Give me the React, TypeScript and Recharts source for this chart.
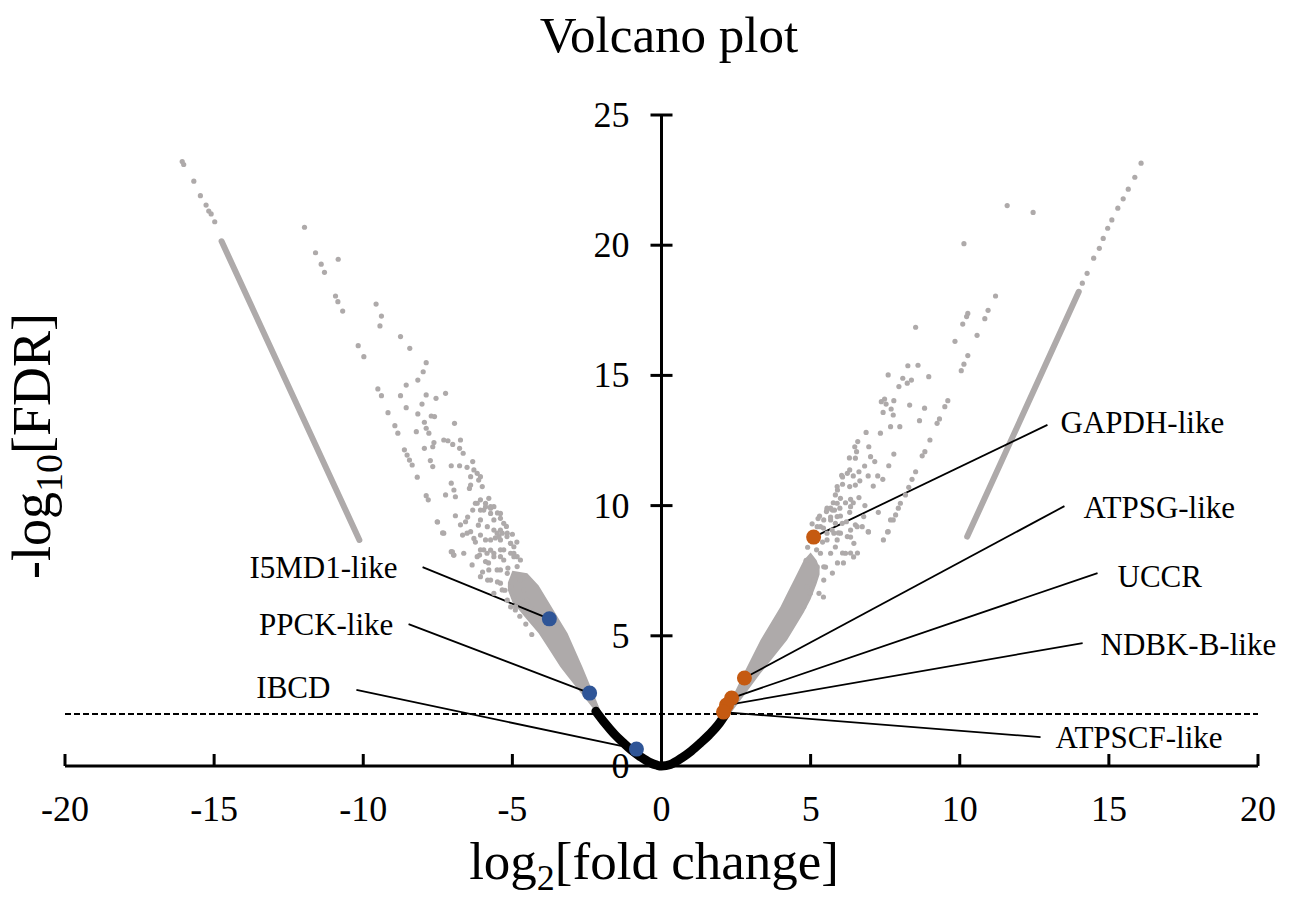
import React from 'react';
import { ComposedChart, Scatter, Line, Area, XAxis, YAxis, ReferenceLine } from 'recharts';

// ---------- data ----------
const xTicks = [-20, -15, -10, -5, 0, 5, 10, 15, 20];
const yTicks = [0, 5, 10, 15, 20, 25];
const fdrThreshold = 2;

// scattered genes, down-regulated side [log2FC, -log10FDR]
const leftScatter: [number, number][] = [
  [-11.97, 20.69], [-11.6, 19.71], [-11.41, 19.27], [-11.3, 18.96], [-10.84, 19.46], [-10.93, 18.05], [-10.85, 17.83], [-10.69, 17.47],
  [-9.57, 17.74], [-9.39, 17.28], [-9.44, 16.9], [-8.75, 16.49], [-8.44, 16.04], [-10.17, 16.14], [-9.98, 15.72], [-9.51, 14.48],
  [-9.39, 14.22], [-7.89, 15.49], [-7.99, 15.14], [-8.17, 14.82], [-8.56, 14.63], [-8.75, 14.22], [-8.56, 13.76], [-9.17, 13.57],
  [-8.94, 13.07], [-8.84, 12.78], [-8.03, 13.9], [-8.17, 13.52], [-7.89, 14.25], [-7.56, 14.12], [-7.24, 14.31], [-7.95, 13.2],
  [-7.72, 13.44], [-7.61, 13.42], [-7.89, 12.97], [-7.8, 12.78], [-8.22, 12.84], [-8.62, 12.14], [-8.53, 11.94], [-8.45, 11.75],
  [-8.36, 11.56], [-7.95, 12.2], [-7.63, 12.42], [-7.67, 12.26], [-7.3, 12.52], [-7.16, 12.49], [-7.0, 12.35], [-6.74, 12.52],
  [-6.77, 12.2], [-6.65, 12.01], [-6.94, 13.16], [-7.75, 11.73], [-7.67, 11.5], [-7.05, 11.53], [-6.77, 11.53], [-6.52, 11.47],
  [-6.33, 11.69], [-6.29, 11.37], [-6.18, 11.24], [-6.07, 11.11], [-6.4, 11.11], [-6.13, 10.98], [-8.19, 11.09], [-7.89, 10.38],
  [-7.82, 10.22], [-7.24, 10.41], [-7.05, 10.86], [-6.96, 10.6], [-6.91, 10.34], [-6.44, 10.66], [-6.4, 10.79], [-6.01, 10.73],
  [-6.07, 10.22], [-5.9, 10.09], [-5.79, 10.28], [-6.24, 10.09], [-6.33, 9.83], [-6.07, 9.83], [-5.73, 9.9], [-5.62, 9.96],
  [-5.73, 9.7], [-5.4, 9.51], [-7.52, 9.38], [-7.3, 8.94], [-6.91, 9.61], [-6.74, 9.26], [-6.57, 9.38], [-6.52, 8.94],
  [-6.4, 9.0], [-6.29, 8.74], [-6.07, 8.87], [-5.9, 8.68], [-5.62, 9.06], [-5.45, 8.81], [-5.34, 8.94], [-5.18, 8.81],
  [-5.06, 8.55], [-4.95, 8.42], [-5.06, 8.17], [-5.29, 8.3], [-7.05, 8.23], [-6.96, 8.1], [-6.63, 8.17], [-6.07, 8.3],
  [-5.85, 8.17], [-5.62, 8.17], [-5.4, 8.04], [-4.95, 8.17], [-4.84, 8.04], [-4.73, 7.91],
  [-7.51, 9.37], [-7.34, 8.95], [-7.01, 8.22], [-6.97, 8.1], [-6.67, 8.87], [-6.5, 9.56], [-6.14, 9.25], [-6.24, 8.6],
  [-6.1, 8.1], [-6.0, 7.45], [-5.8, 7.8], [-5.73, 8.29], [-5.83, 7.14], [-5.5, 7.07], [-5.4, 7.53], [-5.06, 6.11],
  [-4.9, 5.99], [-5.57, 8.76], [-5.4, 9.06], [-5.9, 9.95], [-5.5, 9.72],
  [-4.75, 5.75], [-4.55, 5.45], [-5.25, 6.75], [-4.35, 5.05], [-4.95, 7.3], [-5.15, 7.6], [-4.65, 7.2], [-5.0, 8.9],
  [-4.85, 8.6], [-5.2, 9.2],
  [-6.18, 10.09], [-5.96, 9.83], [-5.73, 9.96], [-6.07, 9.45], [-5.84, 9.19], [-5.62, 9.45], [-5.4, 9.7], [-5.29, 9.32],
  [-5.51, 8.94], [-5.17, 8.94], [-5.06, 8.55], [-5.4, 8.3], [-5.62, 8.04], [-5.29, 7.91], [-4.95, 8.04], [-4.84, 7.66],
  [-5.17, 7.4], [-5.51, 7.53], [-5.4, 7.02], [-5.06, 6.89], [-4.73, 7.14], [-4.62, 6.76], [-4.95, 6.5], [-4.5, 6.37],
  [-5.4, 8.68], [-5.96, 8.3], [-5.73, 8.68], [-6.18, 8.04], [-5.9, 7.85], [-6.35, 7.72], [-6.07, 7.27], [-5.73, 7.14],
  [-4.73, 6.37], [-4.39, 6.12], [-4.89, 6.12], [-5.17, 6.37], [-5.62, 6.63], [-5.34, 6.76], [-5.79, 7.53],
  [-16.07, 23.21], [-16.02, 23.1], [-15.68, 22.46], [-15.46, 21.9], [-15.27, 21.54], [-15.18, 21.31], [-15.1, 21.2], [-14.98, 20.9],
];

// scattered genes, up-regulated side
const rightScatter: [number, number][] = [
  [11.59, 21.52], [12.46, 21.26], [10.14, 20.06], [11.2, 18.05], [10.95, 17.5], [10.27, 17.38], [10.23, 17.26], [10.1, 16.97],
  [10.84, 17.18], [10.58, 16.54], [9.84, 16.31], [8.52, 16.85], [10.27, 15.76], [10.14, 15.43], [10.05, 15.18], [8.26, 15.37],
  [8.6, 15.39], [8.96, 14.95], [7.6, 15.02], [8.09, 14.89], [8.38, 14.82], [8.24, 14.7], [7.96, 14.57], [9.6, 14.03],
  [9.5, 13.8], [9.32, 13.33], [9.24, 13.16], [9.0, 12.52], [8.83, 12.07], [8.74, 11.91], [8.52, 11.3], [8.4, 11.01],
  [8.29, 10.7], [8.18, 10.41], [8.01, 10.09], [7.94, 9.9], [7.85, 9.64], [7.77, 9.45], [7.6, 9.0], [7.37, 13.99],
  [7.48, 14.09], [7.79, 14.03], [7.53, 13.9], [7.7, 13.71], [7.77, 13.48], [7.43, 13.58], [8.32, 13.86], [8.82, 13.74],
  [8.65, 13.26], [7.68, 13.03], [7.99, 13.03], [7.34, 12.78], [6.86, 12.81], [6.58, 12.46], [6.48, 12.26], [6.54, 12.07],
  [6.3, 11.83], [6.5, 11.82], [6.95, 12.26], [7.01, 11.88], [7.15, 11.69], [7.79, 11.98], [7.62, 11.53], [6.81, 11.52],
  [6.62, 11.3], [6.31, 11.37], [6.23, 11.24], [6.43, 11.14], [6.65, 10.95], [6.93, 11.14], [7.25, 11.14], [7.42, 11.01],
  [7.1, 10.75], [6.04, 11.16], [5.89, 10.73], [6.07, 10.82], [6.31, 10.73], [6.5, 10.79], [5.83, 10.41], [6.0, 10.28],
  [6.34, 10.24], [6.62, 10.31], [6.43, 10.11], [6.17, 10.11], [5.76, 10.11], [5.67, 9.9], [5.53, 9.77], [5.8, 9.83],
  [5.98, 9.9], [6.31, 9.74], [6.82, 10.0], [7.27, 9.74], [6.0, 9.6], [5.67, 9.45], [5.83, 9.32], [6.2, 9.38],
  [6.5, 9.26], [6.73, 9.19], [6.34, 9.06], [6.93, 9.0], [5.33, 9.19], [5.55, 8.94], [5.78, 8.94], [6.0, 8.94],
  [5.43, 6.49], [5.73, 7.41], [5.9, 7.8], [6.1, 7.8], [6.34, 8.18], [6.44, 8.03], [6.57, 8.18], [6.07, 8.18],
  [5.83, 8.41], [5.5, 7.64], [6.34, 8.79], [6.94, 8.99], [7.58, 8.99], [7.44, 8.68], [7.68, 9.45], [5.93, 8.95],
  [5.2, 8.3], [5.0, 8.7], [4.9, 8.4], [5.4, 8.6], [5.25, 9.5], [5.05, 9.3], [4.85, 7.9], [5.43, 9.14],
  [5.67, 9.56], [5.55, 9.9], [5.3, 9.6], [5.9, 10.6], [6.07, 11.1], [5.73, 9.83],
  [5.44, 7.65], [5.67, 8.17], [5.89, 8.68], [5.33, 8.17], [5.55, 8.68], [5.22, 7.65], [5.11, 7.14], [5.44, 7.14],
  [5.72, 9.06], [6.06, 9.32], [5.89, 9.58], [5.44, 9.45], [5.22, 9.19], [6.23, 8.81], [6.45, 8.55], [6.17, 8.17],
  [6.56, 9.19], [6.78, 9.58], [6.34, 9.96], [5.89, 10.09], [5.55, 9.83], [4.99, 6.63], [4.77, 6.12], [4.88, 6.89],
  [5.28, 6.63],
  [16.08, 23.15], [15.87, 22.61], [15.65, 22.15], [15.48, 21.78], [15.3, 21.42], [15.1, 20.97], [14.96, 20.65], [14.81, 20.26],
  [14.68, 19.88], [14.49, 19.5], [14.27, 18.92], [14.11, 18.54],
];

// densely packed runs of genes (drawn as continuous strokes)
const leftRun: [number, number][] = [[-14.75, 20.15], [-10.13, 8.68]];
const rightRun: [number, number][] = [[10.25, 8.81], [13.99, 18.21]];

// dense cores of the two arms: [log2FC, lower, upper]
const leftCore: [number, number, number][] = [
  [-5.15, 6.75, 7.05], [-5.0, 6.3, 7.5], [-4.5, 5.61, 7.4], [-4.12, 5.1, 6.93], [-3.82, 4.57, 6.37],
  [-3.39, 3.8, 5.55], [-3.15, 3.45, 5.1], [-2.65, 2.73, 3.8], [-2.15, 2.0, 2.42], [-2.0, 2.0, 2.0],
];
const rightCore: [number, number, number][] = [
  [2.1, 2.0, 2.0], [2.3, 2.0, 2.47], [2.76, 2.7, 3.56], [3.32, 3.56, 4.84], [3.99, 4.52, 6.12],
  [4.21, 4.84, 6.62], [4.44, 5.27, 7.14], [4.77, 5.89, 7.9], [5.0, 6.4, 8.2], [5.2, 7.0, 7.9], [5.3, 7.35, 7.6],
];

// non-significant genes (below FDR threshold)
const nonSignificant: [number, number][] = [
  [-2.2, 2.1], [-1.9, 1.65], [-1.6, 1.25], [-1.27, 0.88], [-1.0, 0.6], [-0.7, 0.35], [-0.4, 0.14], [-0.15, 0.03],
  [0, 0], [0.3, 0.06], [0.7, 0.33], [1.0, 0.58], [1.3, 0.88], [1.6, 1.2], [1.9, 1.58], [2.15, 2.0],
];

// highlighted genes
const downNames = ['I5MD1-like', 'PPCK-like', 'IBCD'];
const downFC = [-3.76, -2.41, -0.84];
const downFDR = [5.65, 2.8, 0.65];
const upNames = ['GAPDH-like', 'ATPSG-like', 'UCCR', 'NDBK-B-like', 'ATPSCF-like'];
const upFC = [5.1, 2.78, 2.35, 2.18, 2.08];
const upFDR = [8.79, 3.38, 2.61, 2.34, 2.07];

// ---------- layout of callouts (data-space anchors) ----------
const calloutLayout: Record<string, { lx: number; ly: number; tx: number; ty: number; anchor: 'start' | 'end' }> = {
  'I5MD1-like': { lx: -8.01, ly: 7.64, tx: -8.85, ty: 7.64, anchor: 'end' },
  'PPCK-like': { lx: -8.48, ly: 5.45, tx: -8.99, ty: 5.45, anchor: 'end' },
  IBCD: { lx: -10.23, ly: 2.92, tx: -11.1, ty: 3.0, anchor: 'end' },
  'GAPDH-like': { lx: 12.94, ly: 13.1, tx: 13.38, ty: 13.21, anchor: 'start' },
  'ATPSG-like': { lx: 13.51, ly: 9.98, tx: 14.15, ty: 9.91, anchor: 'start' },
  UCCR: { lx: 14.62, ly: 7.41, tx: 15.29, ty: 7.26, anchor: 'start' },
  'NDBK-B-like': { lx: 14.12, ly: 4.72, tx: 14.72, ty: 4.65, anchor: 'start' },
  'ATPSCF-like': { lx: 12.71, ly: 1.11, tx: 13.21, ty: 1.08, anchor: 'start' },
};

const FONT = "'Liberation Serif', 'Times New Roman', serif";
const GREY = '#AEAAAA';
const BLUE = '#2F5597';
const ORANGE = '#C55A11';

const toPts = (a: [number, number][]) => a.map(([x, y]) => ({ x, y }));
const greyPts = [...toPts(leftScatter), ...toPts(rightScatter)];
const leftCoreData = leftCore.map(([x, lo, hi]) => ({ x, r: [lo, hi] }));
const rightCoreData = rightCore.map(([x, lo, hi]) => ({ x, r: [lo, hi] }));
const downPts = downNames.map((n, i) => ({ x: downFC[i], y: downFDR[i], name: n }));
const upPts = upNames.map((n, i) => ({ x: upFC[i], y: upFDR[i], name: n }));
const allCallouts = [...downPts, ...upPts];
const labelPts = allCallouts.map((p) => ({ x: calloutLayout[p.name].tx, y: calloutLayout[p.name].ty, name: p.name }));
const yTickPts = yTicks.map((v) => ({ x: 0, y: v, label: String(v) }));

const GreyDot = (p: any) => <circle cx={p.cx} cy={p.cy} r={2.6} fill={GREY} />;
const BlueDot = (p: any) => <circle cx={p.cx} cy={p.cy} r={7.5} fill={BLUE} />;
const OrangeDot = (p: any) => <circle cx={p.cx} cy={p.cy} r={7.5} fill={ORANGE} />;

const LabelText = (p: any) => {
  const l = calloutLayout[p.payload.name];
  return (
    <text x={p.cx} y={p.cy + 10.5} textAnchor={l.anchor} fontSize={31} fontFamily={FONT} fill="#000">
      {p.payload.name}
    </text>
  );
};

const YTick = (p: any) => (
  <g>
    <line x1={p.cx - 11} x2={p.cx + 11} y1={p.cy} y2={p.cy} stroke="#000" strokeWidth={3} />
    <text x={p.cx - 32} y={p.cy + 12} textAnchor="end" fontSize={36} fontFamily={FONT} fill="#000">
      {p.payload.label}
    </text>
  </g>
);

const XTick = (p: any) => (
  <g>
    <line x1={p.x} x2={p.x} y1={p.y} y2={p.y - 12} stroke="#000" strokeWidth={3} />
    <text x={p.x} y={p.y + 55} textAnchor="middle" fontSize={36} fontFamily={FONT} fill="#000">
      {String(p.payload.value)}
    </text>
  </g>
);

export default function App() {
  return (
    <div style={{ position: 'relative', width: 1281, height: 885 }}>
      <ComposedChart width={1281} height={885} margin={{ top: 107, right: 31, bottom: 67, left: 57 }}>
        <XAxis
          type="number"
          dataKey="x"
          domain={[-20, 20]}
          ticks={xTicks}
          interval={0}
          height={60}
          tickSize={0}
          tickMargin={0}
          tickLine={false}
          axisLine={{ stroke: '#000', strokeWidth: 3 }}
          tick={<XTick />}
        />
        <YAxis type="number" dataKey="y" domain={[0, 25]} ticks={yTicks} hide />
        <Area data={leftCoreData} dataKey="r" type="linear" stroke="none" fill={GREY} fillOpacity={1} isAnimationActive={false} dot={false} activeDot={false} />
        <Area data={rightCoreData} dataKey="r" type="linear" stroke="none" fill={GREY} fillOpacity={1} isAnimationActive={false} dot={false} activeDot={false} />
        <Line data={toPts(leftRun)} dataKey="y" type="linear" stroke={GREY} strokeWidth={6} strokeLinecap="round" dot={false} activeDot={false} isAnimationActive={false} />
        <Line data={toPts(rightRun)} dataKey="y" type="linear" stroke={GREY} strokeWidth={6} strokeLinecap="round" dot={false} activeDot={false} isAnimationActive={false} />
        <Scatter data={greyPts} shape={<GreyDot />} isAnimationActive={false} />
        <Line data={toPts(nonSignificant)} dataKey="y" type="monotone" stroke="#000" strokeWidth={9} strokeLinecap="round" dot={false} activeDot={false} isAnimationActive={false} />
        <ReferenceLine y={fdrThreshold} stroke="#000" strokeWidth={2} strokeDasharray="6 3" />
        <ReferenceLine x={0} stroke="#000" strokeWidth={3} />
        <Scatter data={downPts} shape={<BlueDot />} isAnimationActive={false} />
        <Scatter data={upPts} shape={<OrangeDot />} isAnimationActive={false} />
        {allCallouts.map((p) => (
          <ReferenceLine
            key={p.name}
            segment={[{ x: calloutLayout[p.name].lx, y: calloutLayout[p.name].ly }, { x: p.x, y: p.y }]}
            stroke="#000"
            strokeWidth={1.8}
          />
        ))}
        <Scatter data={yTickPts} shape={<YTick />} isAnimationActive={false} />
        <Scatter data={labelPts} shape={<LabelText />} isAnimationActive={false} />
      </ComposedChart>
      <svg width={1289} height={901} style={{ position: 'absolute', left: -8, top: -8, pointerEvents: 'none' }}>
        <text x={669} y={52} textAnchor="middle" fontSize={51} fontFamily={FONT} fill="#000">
          Volcano plot
        </text>
        <text x={654} y={879} textAnchor="middle" fontSize={53} fontFamily={FONT} fill="#000">
          log
          <tspan fontSize={36} dy={11}>2</tspan>
          <tspan dy={-11}>[fold change]</tspan>
        </text>
        <text x={50} y={446} transform="rotate(-90, 50, 446)" textAnchor="middle" fontSize={54} fontFamily={FONT} fill="#000">
          -log
          <tspan fontSize={38} dy={12}>10</tspan>
          <tspan dy={-12}>[FDR]</tspan>
        </text>
      </svg>
    </div>
  );
}
